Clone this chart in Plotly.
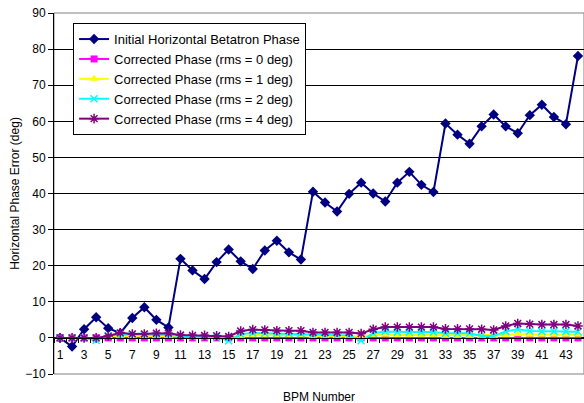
import plotly.graph_objects as go

bpm = list(range(1, 45))

initial = [0, -2.4, 2.4, 5.7, 2.7, 1.3, 5.5, 8.5, 5.0, 2.9,
           21.9, 18.7, 16.3, 21.0, 24.5, 21.2, 19.1, 24.2, 26.9, 23.7,
           21.7, 40.5, 37.5, 35.0, 39.9, 43.0, 40.0, 37.8, 43.0, 46.0,
           42.4, 40.4, 59.4, 56.3, 53.8, 58.6, 61.9, 58.6, 56.7, 61.7,
           64.6, 61.2, 59.2, 78.1]

rms0 = [0.0] * 44

rms1 = [0, 0, 0, -0.2, 0.5, 0.6, 0.5, 0.5, 0.5, 0.5,
        0.3, 0.3, 0.3, 0.3, 0.2, 0.6, 0.8, 0.8, 0.8, 0.8,
        0.8, 0.5, 0.5, 0.5, 0.5, 0.4, 0.8, 0.9, 0.8, 0.8,
        0.8, 0.8, 0.6, 0.6, 0.6, 0.6, 0.6, 0.8, 1.0, 0.9,
        0.9, 0.9, 0.9, 0.9]

rms2 = [0, 0, 0, -0.7, 0.6, 1.0, 0.9, 0.9, 0.9, 0.9,
        0.5, 0.4, 0.4, 0.2, -0.8, 1.0, 1.4, 1.3, 1.3, 1.3,
        1.2, 0.9, 0.8, 0.8, 0.7, -0.8, 1.3, 1.8, 1.6, 1.6,
        1.6, 1.6, 1.3, 1.3, 1.3, 0.5, 0.5, 1.8, 2.4, 1.9,
        1.8, 1.8, 1.8, 1.7]

rms4 = [0, 0, 0, 0, 0.5, 1.4, 1.1, 1.1, 1.3, 1.3,
        0.8, 0.7, 0.7, 0.6, 0.4, 1.9, 2.3, 2.2, 2.0, 2.0,
        2.0, 1.5, 1.5, 1.5, 1.5, 1.2, 2.4, 3.0, 3.0, 3.0,
        3.0, 3.0, 2.5, 2.5, 2.5, 2.4, 2.2, 3.3, 4.0, 3.8,
        3.7, 3.7, 3.7, 3.3]

series = [
    ("Initial Horizontal Betatron Phase", initial, "#000080", "diamond", 8, 0),
    ("Corrected Phase (rms = 0 deg)", rms0, "#FF00FF", "square", 7, 0),
    ("Corrected Phase (rms = 1 deg)", rms1, "#FFFF00", "triangle-up", 8, 0),
    ("Corrected Phase (rms = 2 deg)", rms2, "#00FFFF", "x-thin", 7, 1.5),
    ("Corrected Phase (rms = 4 deg)", rms4, "#800080", "asterisk", 8, 1.5),
]

xticks = list(range(1, 45, 2))

fig = go.Figure()
for name, vals, color, sym, size, mlw in series:
    fig.add_trace(go.Scatter(
        x=bpm, y=vals, name=name, mode="lines+markers",
        line=dict(color=color, width=2),
        marker=dict(symbol=sym, size=size, color=color,
                    line=dict(color=color, width=mlw)),
    ))

fig.update_layout(
    width=584, height=403,
    margin=dict(l=54, r=0, t=13, b=29),
    paper_bgcolor="white", plot_bgcolor="white",
    font=dict(family="Liberation Sans, Arial, sans-serif", size=12, color="black"),
    showlegend=True,
    legend=dict(x=0.036, y=0.972, xanchor="left", yanchor="top",
                bordercolor="black", borderwidth=1, bgcolor="white",
                font=dict(size=13), tracegroupgap=0),
    xaxis=dict(range=[0.5, 44.5], anchor="free", position=0.1,
               showline=True, linecolor="black", linewidth=1,
               showgrid=False, zeroline=False,
               tickmode="array", tickvals=xticks, ticktext=[str(v) for v in xticks],
               ticks="outside", ticklen=6, tickcolor="rgba(0,0,0,0)",
               tickfont=dict(size=12),
               minor=dict(ticks="outside", tick0=0.5, dtick=1, ticklen=4,
                          tickcolor="black", showgrid=False)),
    yaxis=dict(range=[-10, 90], dtick=10, tick0=0,
               showline=True, linecolor="black", linewidth=1,
               ticks="outside", ticklen=5, tickcolor="black",
               showgrid=True, gridcolor="black", gridwidth=1,
               zeroline=False, tickfont=dict(size=12),
               title=dict(text="Horizontal Phase Error (deg)", font=dict(size=12), standoff=3)),
    shapes=[dict(type="rect", xref="paper", yref="paper", x0=0, x1=1, y0=0, y1=1,
                 line=dict(color="#808080", width=1), layer="below")],
    annotations=[dict(text="BPM Number", xref="paper", yref="paper", x=0.5, y=0,
                      xanchor="center", yanchor="top", yshift=-14, showarrow=False,
                      font=dict(size=12))],
)

fig.write_html("out.html", config={"displayModeBar": False},
               post_script="document.body.style.margin='0';document.body.style.overflow='hidden';")
